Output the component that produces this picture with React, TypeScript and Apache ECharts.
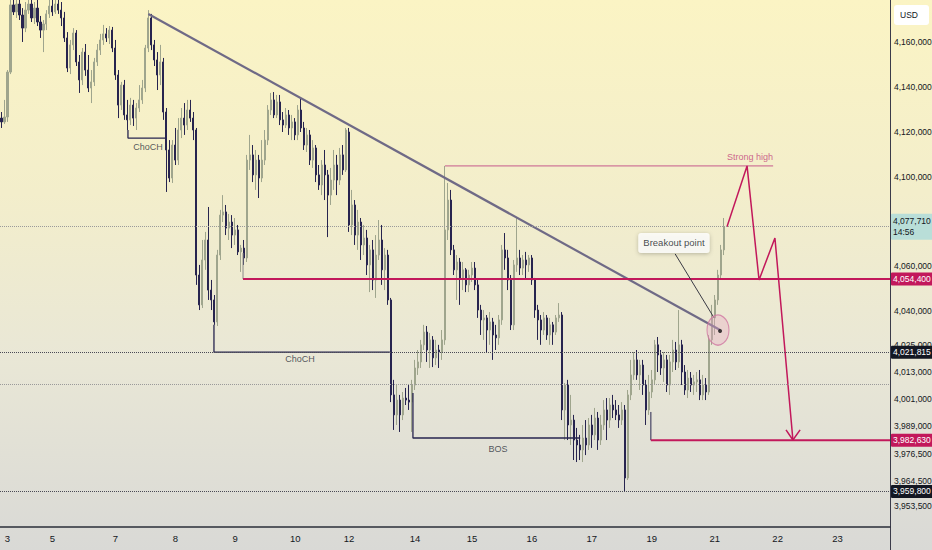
import React, { useEffect, useRef } from "react";
import * as echarts from "echarts";

// [open, close, low, high]
const candles: number[][] = [
[4126100,4124400,4121700,4128800],[4124400,4126600,4123500,4134200],[4126600,4146600,4124400,4147500],[4146600,4176500,4145700,4182300],
[4176500,4173400,4172000,4183200],[4173400,4176900,4170700,4180900],[4176900,4172000,4169800,4181400],[4172000,4166200,4160000,4175100],
[4166200,4174200,4164400,4177800],[4174200,4176900,4172500,4182300],[4176900,4170700,4168900,4179600],[4170700,4175100,4168000,4177800],
[4175100,4168900,4167100,4178700],[4168900,4165300,4161800,4171600],[4165300,4168000,4155500,4169800],[4168000,4172500,4165300,4174200],
[4172500,4176000,4170700,4178700],[4176000,4173400,4171600,4180500],[4173400,4176900,4172500,4181400],[4176900,4174200,4172500,4180500],
[4174200,4170700,4167100,4177800],[4170700,4161800,4160000,4173400],[4161800,4148400,4146600,4164400],[4148400,4158700,4145700,4160900],
[4158700,4164000,4156400,4166200],[4164000,4151100,4149300,4165300],[4151100,4143100,4137300,4154200],[4143100,4155500,4140800,4157300],
[4155500,4147500,4144900,4159100],[4147500,4139500,4137700,4154200],[4139500,4142200,4132800,4147500],[4142200,4151100,4140400,4152900],
[4151100,4156400,4149300,4159100],[4156400,4160900,4154200,4163600],[4160900,4163600,4158700,4167600],[4163600,4161800,4160000,4166200],
[4161800,4165300,4159100,4167100],[4165300,4157300,4155500,4166700],[4157300,4145300,4143100,4160900],[4145300,4131900,4126100,4147500],
[4131900,4140800,4129700,4142200],[4140800,4127500,4125300,4143100],[4127500,4125300,4120800,4134200],[4125300,4131900,4123000,4135100],
[4131900,4126100,4122600,4134200],[4126100,4130600,4120800,4132800],[4130600,4134200,4128800,4140800],[4134200,4139500,4132400,4143100],
[4139500,4157300,4137700,4158700],[4157300,4170700,4155500,4174200],[4170700,4158700,4156400,4172500],[4158700,4152000,4149300,4160900],
[4152000,4145300,4138600,4155500],[4145300,4151100,4140800,4158700],[4151100,4128800,4125300,4152900],[4128800,4111900,4093200,4130600],
[4111900,4099400,4097600,4116300],[4099400,4114100,4097200,4116300],[4114100,4107400,4105200,4121700],[4107400,4120800,4105200,4126100],
[4120800,4126100,4117200,4130600],[4126100,4123000,4118600,4132800],[4123000,4129700,4120800,4134200],[4129700,4126100,4124400,4134200],
[4126100,4120800,4116300,4128800],[4120800,4056200,4051800,4121700],[4056200,4042900,4040600,4060700],[4042900,4062900,4041500,4071800],
[4062900,4071800,4058500,4075400],[4071800,4049500,4045100,4086500],[4049500,4045100,4040600,4054000],[4045100,4035300,4034000,4047300],
[4035300,4065100,4033500,4067400],[4065100,4082900,4062900,4085200],[4082900,4084300,4079800,4091800],[4084300,4077100,4074000,4087400],
[4077100,4079800,4071800,4083400],[4079800,4074000,4068200,4082900],[4074000,4076300,4069600,4081600],[4076300,4066500,4065100,4078500],
[4066500,4068200,4057600,4069600],[4068200,4063800,4060700,4071800],[4063800,4107400,4062000,4109700],[4107400,4109700,4103000,4118600],
[4109700,4100800,4097600,4114100],[4100800,4107400,4094100,4111900],[4107400,4099400,4090500,4109700],[4099400,4107400,4097600,4116300],
[4107400,4116300,4105200,4120800],[4116300,4129700,4114100,4131900],[4129700,4134200,4127500,4137300],[4134200,4127500,4126100,4137700],
[4127500,4133300,4126100,4136400],[4133300,4125300,4123000,4136400],[4125300,4123000,4119900,4128800],[4123000,4127500,4121700,4130600],
[4127500,4121700,4118600,4129700],[4121700,4124400,4116300,4127500],[4124400,4118600,4116300,4126100],[4118600,4129700,4116300,4131900],
[4129700,4121700,4119900,4135100],[4121700,4114100,4111900,4124400],[4114100,4118600,4111000,4121700],[4118600,4107400,4105200,4120800],
[4107400,4112800,4103900,4116300],[4112800,4100800,4097600,4114100],[4100800,4096300,4094100,4105200],[4096300,4105200,4091800,4107400],
[4105200,4100800,4089600,4111900],[4100800,4091800,4073100,4103000],[4091800,4098500,4087400,4103900],[4098500,4105200,4094100,4111900],
[4105200,4098500,4091800,4109700],[4098500,4109700,4096300,4112800],[4109700,4103000,4100800,4114100],[4103000,4120800,4102100,4121700],
[4119900,4078500,4075400,4121700],[4078500,4087400,4074000,4094100],[4087400,4074000,4069600,4089600],[4074000,4079800,4067400,4085200],
[4079800,4069600,4062900,4081600],[4069600,4072700,4065100,4078500],[4072700,4060700,4056200,4076300],[4060700,4067400,4048600,4069600],
[4067400,4054000,4049500,4071800],[4054000,4065100,4046000,4074000],[4065100,4071800,4062900,4080700],[4071800,4058500,4051800,4078500],
[4058500,4065100,4049500,4068200],[4065100,4045100,4042900,4067400],[4045100,4002800,3999600,4046000],[4002800,3993900,3987200,4009500],
[3993900,4000500,3989400,4007200],[4000500,3993900,3986300,4002800],[3993900,4001400,3991600,4004100],[4001400,4000500,3998300,4005900],
[4000500,3999600,3996100,4007200],[3999600,4007200,3986300,4009500],[4007200,4014800,4005000,4018400],[4014800,4017500,4011700,4022800],
[4017500,4025100,4014800,4027300],[4025100,4030800,4022800,4034000],[4030800,4022800,4017500,4033500],[4022800,4027300,4014800,4030400],
[4027300,4019300,4015200,4029000],[4019300,4022800,4016100,4027300],[4022800,4021900,4014800,4025100],[4021900,4027300,4018400,4031700],
[4027300,4076300,4025100,4104800],[4076300,4089600,4071800,4097200],[4089600,4067400,4065100,4094100],[4067400,4058500,4056200,4069600],
[4058500,4062000,4045100,4065100],[4062000,4054900,4042900,4063800],[4054900,4058500,4049500,4062000],[4058500,4051800,4048600,4059300],
[4051800,4056200,4048600,4058500],[4056200,4059300,4053100,4062000],[4059300,4051800,4049500,4062000],[4051800,4040600,4037100,4054000],
[4040600,4036200,4029500,4042900],[4036200,4037100,4027300,4040600],[4037100,4031700,4021900,4038400],[4031700,4035300,4025100,4039700],
[4035300,4029500,4018400,4037100],[4029500,4028200,4022800,4034000],[4028200,4036200,4025100,4038400],[4036200,4067400,4034000,4069600],
[4067400,4063800,4058500,4074900],[4063800,4054000,4049500,4067400],[4054000,4034000,4031700,4056200],[4034000,4060700,4031700,4062900],
[4060700,4063800,4057600,4082000],[4063800,4059300,4056200,4067400],[4059300,4062900,4056200,4065100],[4062900,4060700,4054000,4066500],
[4060700,4063800,4057600,4065100],[4063800,4054000,4051800,4065100],[4054000,4040600,4037100,4054900],[4040600,4036200,4027300,4042900],
[4036200,4031700,4025100,4038400],[4031700,4037100,4029500,4039700],[4037100,4029500,4027300,4038400],[4029500,4034000,4025100,4037100],
[4034000,4030800,4025100,4035300],[4030800,4037100,4029500,4038400],[4037100,4038400,4035300,4043700],[4038400,3996100,3991600,4039700],
[3996100,4007200,3982700,4008100],[4007200,3989400,3982700,4009500],[3989400,3991600,3980500,4002800],[3991600,3982700,3973800,3993900],
[3982700,3980500,3972900,3988100],[3980500,3978300,3973800,3985000],[3978300,3983600,3972900,3989400],[3983600,3980500,3976000,3991600],
[3980500,3989400,3978300,3992500],[3989400,3985000,3979200,3993900],[3985000,3992500,3982700,3997000],[3992500,3982700,3978300,3995200],
[3982700,3989400,3980500,3993900],[3989400,3996100,3987200,4000500],[3996100,3991600,3982700,4001400],[3991600,3998300,3988100,4001400],
[3998300,3996100,3992500,4002800],[3996100,3993900,3991600,4000500],[3993900,3991600,3988100,3998300],[3991600,3996100,3989400,3999600],
[3996100,3965800,3959800,3998300],[3965800,4002800,3964900,4005000],[4002800,4011700,4000500,4018400],[4011700,4018400,4009500,4021900],
[4018400,4011700,4009500,4022800],[4011700,4016100,4005000,4018400],[4016100,4007200,4002800,4018400],[4007200,3996100,3989400,4009500],
[3996100,4004100,3993900,4011700],[4004100,4009500,4001400,4013900],[4009500,4025100,4007200,4027300],[4025100,4020600,4013000,4028600],
[4020600,4014800,4011700,4022800],[4014800,4018400,4008600,4021900],[4018400,4007200,4004100,4020600],[4007200,4017500,4002800,4020600],
[4017500,4022800,4013000,4027300],[4022800,4017500,4013900,4026400],[4017500,4025100,4014800,4040600],[4025100,4013000,4007200,4027300],
[4013000,4005000,4002800,4016100],[4005000,4010300,4001400,4013900],[4010300,4007200,4004100,4013000],[4007200,4008600,4002800,4011700],
[4008600,4009500,4004100,4013000],[4009500,4002800,4000500,4013900],[4002800,4007200,4000500,4011700],[4007200,4004100,4000500,4010300],
[4004100,4027300,4002800,4029500],[4027300,4037100,4025100,4042900],[4037100,4045100,4029500,4047300],[4045100,4056200,4042900,4058500],
[4056200,4067400,4054000,4069600],[4067400,4077710,4065100,4081600],
];

const slotCount = 297;
const dayLabels = ["3", "5", "7", "8", "9", "10", "12", "14", "15", "16", "17", "19", "21", "22", "23"];
const dayIndex = [2, 17, 38, 58, 78, 98, 116, 138, 157, 177, 197, 217, 238, 259, 279];
const priceTicks = [4160000, 4140000, 4120000, 4100000, 4080000, 4060000, 4040000, 4025000, 4013000, 4001000, 3989000, 3976500, 3964500, 3953500];
const yMin = 3943965;
const yMax = 4178700;

const currentPrice = 4077710;
const currentTime = "14:56";
const blackLevels = [4021815, 3959800];
const greyLevel = 4007700;
const resistance = 4054400;
const support = 3982630;

// annotation geometry in [slot, price]
const trendLine = [[49, 4172500], [239.8, 4031700]];
const strongHighLine = [[148, 4104800], [257.5, 4104800]];
const resistanceLine = [[80.6, resistance], [296.5, resistance]];
const resistanceStub = [[80.6, 4066000], [80.6, resistance]];
const supportLine = [[216.7, support], [296.5, support]];
const supportStub = [[216.7, 3995200], [216.7, support]];
const choch1Line = [[42.2, 4120800], [42.2, 4117200], [54.9, 4117200]];
const choch2Line = [[70.9, 4034000], [70.9, 4021815], [129.6, 4021815]];
const bosLine = [[137.3, 4003700], [137.3, 3983600], [193.1, 3983600]];
const projection = [[242.1, 4077700], [248.8, 4104800], [252.8, 4054000], [258.1, 4072700], [264.1, 3982700]];
const arrowHead = [[261.8, 3987200], [264.1, 3982700], [266.5, 3987200]];
const leader = [[224.8, 4065600], [237.8, 4037100]];
const textMarks = [
  { text: "ChoCH", at: [48.9, 4113200], color: "#2a2e39" },
  { text: "ChoCH", at: [99.6, 4018800], color: "#2a2e39" },
  { text: "BOS", at: [165.7, 3978700], color: "#2a2e39" },
  { text: "Strong high", at: [249.8, 4108800], color: "#c2407a" },
];
const breakoutLabel = { text: "Breakout point", at: [224.4, 4070500] };
const breakoutCircle = [239.1, 4031700];
const breakoutDot = [239.8, 4031300];

const FONT = "'Liberation Sans', Arial, sans-serif";
const PINK = "#c2185b";
const NAVY = "#27244f";
const fmt = (v: number) => Math.round(v).toLocaleString("en-US");

function lineSeries(data: number[][], color: string, width: number, extra: any = {}) {
  return {
    type: "line",
    xAxisIndex: 1,
    yAxisIndex: 0,
    data,
    symbol: "none",
    silent: true,
    z: 4,
    lineStyle: { color, width },
    ...extra,
  };
}

export default function App() {
  const ref = useRef<HTMLDivElement>(null);
  useEffect(() => {
    document.body.style.margin = "0";
    const chart = echarts.init(ref.current!, null, { renderer: "svg" });
    const categories = Array.from({ length: slotCount }, (_, i) => String(i));
    const labelBox = (bg: string, color: string) => ({
      show: true,
      position: "end",
      distance: 1,
      backgroundColor: bg,
      color,
      fontSize: 8.5,
      fontFamily: FONT,
      padding: [2, 2, 2, 2],
      borderRadius: 1,
    });
    const option: any = {
      animation: false,
      grid: { left: 0, right: 42, top: 0, bottom: 23, containLabel: false, outerBoundsMode: "none" },
      xAxis: [
        {
          type: "category",
          data: categories,
          boundaryGap: true,
          axisLine: { show: true, lineStyle: { color: "#2a2e39", width: 1.5 } },
          axisTick: { show: false },
          splitLine: { show: false },
          axisLabel: {
            interval: (index: number) => dayIndex.includes(index),
            formatter: (value: string) => {
              const k = dayIndex.indexOf(Number(value));
              return k >= 0 ? dayLabels[k] : "";
            },
            color: "#131722",
            fontSize: 9.5,
            fontFamily: FONT,
            margin: 6,
          },
        },
        { type: "value", min: -0.5, max: slotCount - 0.5, show: false },
      ],
      yAxis: {
        type: "value",
        position: "right",
        min: yMin,
        max: yMax,
        scale: true,
        splitLine: { show: false },
        axisLine: { show: true, onZero: false, lineStyle: { color: "#3b3b4a", width: 1 } },
        axisTick: { show: false },
        axisLabel: {
          customValues: priceTicks,
          formatter: (v: number) => fmt(v),
          color: "#131722",
          fontSize: 8.5,
          fontFamily: FONT,
          margin: 4,
        },
      },
      series: [
        {
          type: "candlestick",
          data: candles,
          barWidth: 1.6,
          z: 3,
          itemStyle: {
            color: "#9fa58d",
            borderColor: "#9fa58d",
            color0: NAVY,
            borderColor0: NAVY,
            borderWidth: 1,
          },
          markLine: {
            silent: true,
            symbol: ["none", "none"],
            animation: false,
            data: [
              {
                yAxis: currentPrice,
                lineStyle: { type: "dotted", color: "#9a9a9a", width: 1 },
                label: { ...labelBox("#b9ded8", "#131722"), formatter: fmt(currentPrice) + "\n" + currentTime, lineHeight: 11 },
              },
              {
                yAxis: greyLevel,
                lineStyle: { type: "dotted", color: "#9a9a9a", width: 1 },
                label: { show: false },
              },
              ...blackLevels.map((v) => ({
                yAxis: v,
                lineStyle: { type: "dotted", color: "#4a4a55", width: 1 },
                label: { ...labelBox("#131722", "#ffffff"), formatter: fmt(v) },
              })),
            ],
          },
        },
        lineSeries(trendLine, "#6f6a86", 2.2),
        lineSeries(strongHighLine, "#c65a8c", 1),
        lineSeries(resistanceStub, "#8a8a8a", 1),
        lineSeries(resistanceLine, PINK, 2, {
          endLabel: { ...labelBox(PINK, "#ffffff"), formatter: fmt(resistance) },
        }),
        lineSeries(supportStub, NAVY, 1),
        lineSeries(supportLine, PINK, 2, {
          endLabel: { ...labelBox(PINK, "#ffffff"), formatter: fmt(support) },
        }),
        lineSeries(choch1Line, NAVY, 1.3),
        lineSeries(choch2Line, NAVY, 1.3),
        lineSeries(bosLine, NAVY, 1.3),
        lineSeries(projection, PINK, 1.5),
        lineSeries(arrowHead, PINK, 1.5),
        lineSeries(leader, "#3a3a44", 1),
        {
          type: "scatter",
          xAxisIndex: 1,
          yAxisIndex: 0,
          silent: true,
          z: 5,
          data: [
            {
              value: breakoutCircle,
              symbol: "circle",
              symbolSize: [22, 30],
              itemStyle: { color: "rgba(232,170,196,0.45)", borderColor: "#cf76a0", borderWidth: 1.2 },
            },
            { value: breakoutDot, symbol: "circle", symbolSize: 4, itemStyle: { color: "#111" } },
          ],
        },
        {
          type: "scatter",
          xAxisIndex: 1,
          yAxisIndex: 0,
          silent: true,
          z: 6,
          symbolSize: 0,
          data: [
            ...textMarks.map((t) => ({
              value: t.at,
              label: { show: true, position: "inside", formatter: t.text, color: t.color, fontSize: 9, fontFamily: FONT },
            })),
            {
              value: breakoutLabel.at,
              label: {
                show: true,
                position: "inside",
                formatter: breakoutLabel.text,
                color: "#131722",
                fontSize: 9.5,
                fontFamily: FONT,
                backgroundColor: "#ffffff",
                padding: [5, 5, 5, 5],
                borderRadius: 3,
                shadowColor: "rgba(0,0,0,0.3)",
                shadowBlur: 4,
                shadowOffsetY: 1,
              },
            },
          ],
        },
      ],
      graphic: [
        { type: "line", shape: { x1: 890.5, y1: 527, x2: 890.5, y2: 550 }, style: { stroke: "#3b3b4a", lineWidth: 1 } },
        { type: "rect", shape: { x: 894, y: 5, width: 35, height: 20, r: 3 }, style: { fill: "#ffffff" } },
        { type: "text", x: 900, y: 10, style: { text: "USD", fontSize: 8.5, fontFamily: FONT, fill: "#131722" } },
      ],
    };
    chart.setOption(option);
    return () => chart.dispose();
  }, []);
  return (
    <div
      ref={ref}
      style={{
        width: 932,
        height: 550,
        background: "linear-gradient(180deg, #fbf4c4 0%, #f3eecb 35%, #e9e7d6 65%, #d9d9d6 100%)",
      }}
    />
  );
}
